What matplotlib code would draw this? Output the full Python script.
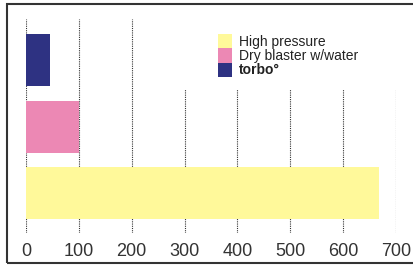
import matplotlib
matplotlib.use("Agg")
import matplotlib.pyplot as plt
from matplotlib.patches import Rectangle

plt.rcParams['font.family'] = ['Liberation Sans', 'DejaVu Sans']

# values
methods = ['torbo°', 'Dry blaster w/water', 'High pressure']
values = [45, 100, 668]
colors = ['#2e3282', '#ec88b4', '#fff99a']
ticks = [0, 100, 200, 300, 400, 500, 600, 700]

W, H = 413, 270
fig = plt.figure(figsize=(W / 100, H / 100), dpi=100)
ax = fig.add_axes([26 / W, 1 - 233 / H, 370 / W, 214 / H])

# bars, torbo on top
ypos = [2, 1, 0]
ax.barh(ypos, values, height=0.78, color=colors, zorder=3)

ax.set_xlim(0, 700)
ax.set_ylim(-0.6, 2.62)
ax.set_xticks(ticks)
ax.set_xticklabels([str(t) for t in ticks], fontsize=13, color='#333333')
ax.set_yticks([])
ax.tick_params(axis='x', length=0, pad=7)
for s in ax.spines.values():
    s.set_visible(False)

# dotted gridlines
for t in ticks:
    ax.axvline(t, color='#333333', linestyle=(0, (1, 1)), linewidth=0.8, zorder=1)

# white block behind legend hides the gridlines
ax.add_patch(Rectangle((0.36, 0.67), 0.7, 0.34, transform=ax.transAxes,
                       facecolor='white', edgecolor='none', zorder=2, clip_on=False))

# legend drawn by hand so the swatches touch, high pressure first
order = [2, 1, 0]
sw = 14 / W
sh = 14.3 / H
top = 1 - 34 / H
for k, i in enumerate(order):
    y0 = top - (k + 1) * sh
    fig.patches.append(Rectangle((218 / W, y0), sw, sh, transform=fig.transFigure,
                                 facecolor=colors[i], edgecolor='none'))
    fig.text(239 / W, y0 + 2.5 / H, methods[i], fontsize=10, color='#222222',
             fontweight='bold' if i == 0 else 'normal', va='baseline')

# outer frame
fig.patches.append(Rectangle((7 / W, 7 / H), 1.2, 1 - 11 / H, transform=fig.transFigure,
                             facecolor='none', edgecolor='#333333', linewidth=1.5))

fig.savefig('out.png', dpi=100)
